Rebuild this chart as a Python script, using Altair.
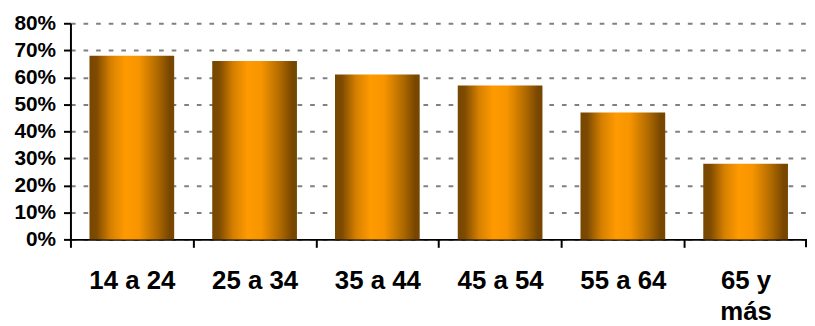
import altair as alt
import pandas as pd

categories = ["14 a 24", "25 a 34", "35 a 44", "45 a 54", "55 a 64", "65 y más"]
values = [0.68, 0.66, 0.61, 0.57, 0.47, 0.28]
y_ticks = [0, 0.1, 0.2, 0.3, 0.4, 0.5, 0.6, 0.7, 0.8]

W, H = 743, 218
step = W / 6.0

df = pd.DataFrame({"grupo": categories, "valor": values})

grad = alt.Gradient(
    gradient="linear",
    x1=0, x2=1, y1=0, y2=0,
    stops=[
        alt.GradientStop(color="#774600", offset=0.0),
        alt.GradientStop(color="#7d4a00", offset=0.08),
        alt.GradientStop(color="#d68000", offset=0.25),
        alt.GradientStop(color="#ff9a00", offset=0.42),
        alt.GradientStop(color="#f79500", offset=0.58),
        alt.GradientStop(color="#b06a00", offset=0.8),
        alt.GradientStop(color="#774600", offset=0.95),
        alt.GradientStop(color="#774600", offset=1.0),
    ],
)

bars = alt.Chart(df).mark_bar(color=grad).encode(
    x=alt.X(
        "grupo:N",
        sort=categories,
        title=None,
        scale=alt.Scale(paddingInner=0.31, paddingOuter=0.155),
        axis=alt.Axis(
            labelAngle=0,
            labelFont="Liberation Sans",
            labelFontWeight="bold",
            labelFontSize=26,
            labelColor="#000000",
            labelPadding=21,
            labelLineHeight=31,
            labelLimit=200,
            labelExpr="datum.label == '65 y más' ? ['65 y', 'más'] : datum.label",
            tickOffset=-step / 2,
            labelOffset=step / 2,
            tickSize=8,
            tickWidth=2,
            tickColor="#000000",
            domainColor="#000000",
            domainWidth=2,
            grid=False,
        ),
    ),
    y=alt.Y(
        "valor:Q",
        title=None,
        scale=alt.Scale(domain=[0, 0.8], nice=False),
        axis=alt.Axis(
            values=y_ticks,
            format=".0%",
            labelFont="Liberation Sans",
            labelFontWeight="bold",
            labelFontSize=21,
            labelColor="#000000",
            labelPadding=8,
            tickSize=7,
            tickWidth=2,
            tickColor="#000000",
            domainColor="#000000",
            domainWidth=2,
            grid=True,
            gridColor="#808080",
            gridWidth=2,
            gridDash=[4.7, 8],
        ),
    ),
)

# closing tick at the right end of the category axis
end_tick = alt.Chart(df).mark_rule(color="#000000", strokeWidth=2).encode(
    x=alt.value(W - 1), y=alt.value(H), y2=alt.value(H + 8)
).transform_filter(alt.datum.grupo == categories[-1])

chart = alt.layer(bars, end_tick).properties(
    width=W,
    height=H,
    autosize=alt.AutoSizeParams(type="none"),
    padding={"left": 63, "top": 14, "right": 0, "bottom": 90},
).configure_view(stroke=None).configure_axis(labelOverlap=False, labelFlush=False)

chart.save("out.html", embed_options={"renderer": "svg", "actions": False})
